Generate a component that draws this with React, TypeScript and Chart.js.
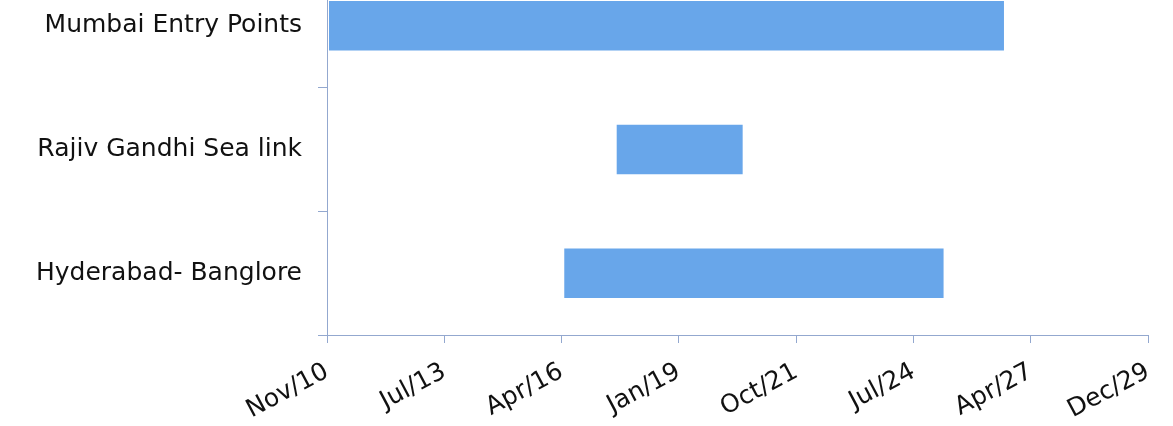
import React, { useEffect, useRef } from 'react';
import { Chart, registerables } from 'chart.js';

Chart.register(...registerables);

const categories = ['Mumbai Entry Points', 'Rajiv Gandhi Sea link', 'Hyderabad- Banglore'];
const startDates = ['2010-11-18', '2017-08-06', '2016-05-16'];
const endDates = ['2026-08-21', '2020-07-15', '2025-03-24'];
const axisOrigin = '2010-11-01';
const tickLabels = ['Nov/10', 'Jul/13', 'Apr/16', 'Jan/19', 'Oct/21', 'Jul/24', 'Apr/27', 'Dec/29'];
const tickStepDays = 1000;

const dayOf = (d: string) => (Date.parse(d) - Date.parse(axisOrigin)) / 86400000;

const AXIS = '#93A8CF';
const BAR = '#68A6EA';
const FONT = { family: "'Century Gothic', 'DejaVu Sans', sans-serif", size: 25 };

export default function App() {
  const ref = useRef<HTMLCanvasElement | null>(null);

  useEffect(() => {
    if (!ref.current) return;
    const chart = new Chart(ref.current, {
      type: 'bar',
      data: {
        labels: categories,
        datasets: [
          {
            data: categories.map((_, i) => [dayOf(startDates[i]), dayOf(endDates[i])]) as any,
            backgroundColor: BAR,
            borderWidth: 0,
            barPercentage: 0.4,
            categoryPercentage: 1,
          },
        ],
      },
      options: {
        indexAxis: 'y',
        animation: false,
        responsive: false,
        maintainAspectRatio: false,
        layout: { padding: { top: 40, right: 25, left: 0, bottom: 0 } },
        plugins: { legend: { display: false }, tooltip: { enabled: false } },
        scales: {
          x: {
            type: 'linear',
            min: 0,
            max: tickStepDays * (tickLabels.length - 1),
            ticks: {
              stepSize: tickStepDays,
              autoSkip: false,
              maxRotation: 28,
              minRotation: 28,
              padding: 14,
              color: '#111',
              font: FONT,
              callback: (_v: any, i: number) => tickLabels[i],
            },
            grid: { drawOnChartArea: false, drawTicks: true, tickLength: 8, color: AXIS },
            border: { color: AXIS, width: 1 },
            afterFit: (s: any) => {
              s.height = 91;
              s.paddingRight = 0;
              s.paddingLeft = 0;
            },
          },
          y: {
            ticks: { padding: 16, color: '#111', font: FONT },
            grid: { drawOnChartArea: false, drawTicks: true, tickLength: 9, color: AXIS, offset: true },
            border: { color: AXIS, width: 1 },
            afterFit: (s: any) => {
              s.width = 327;
              s.paddingTop = 0;
              s.paddingBottom = 0;
            },
          },
        },
      },
    } as any);
    return () => chart.destroy();
  }, []);

  return (
    <div style={{ position: 'absolute', left: 0, top: -76, width: 1173, height: 502 }}>
      <canvas ref={ref} width={1173} height={502} style={{ width: 1173, height: 502, display: 'block' }} />
    </div>
  );
}
